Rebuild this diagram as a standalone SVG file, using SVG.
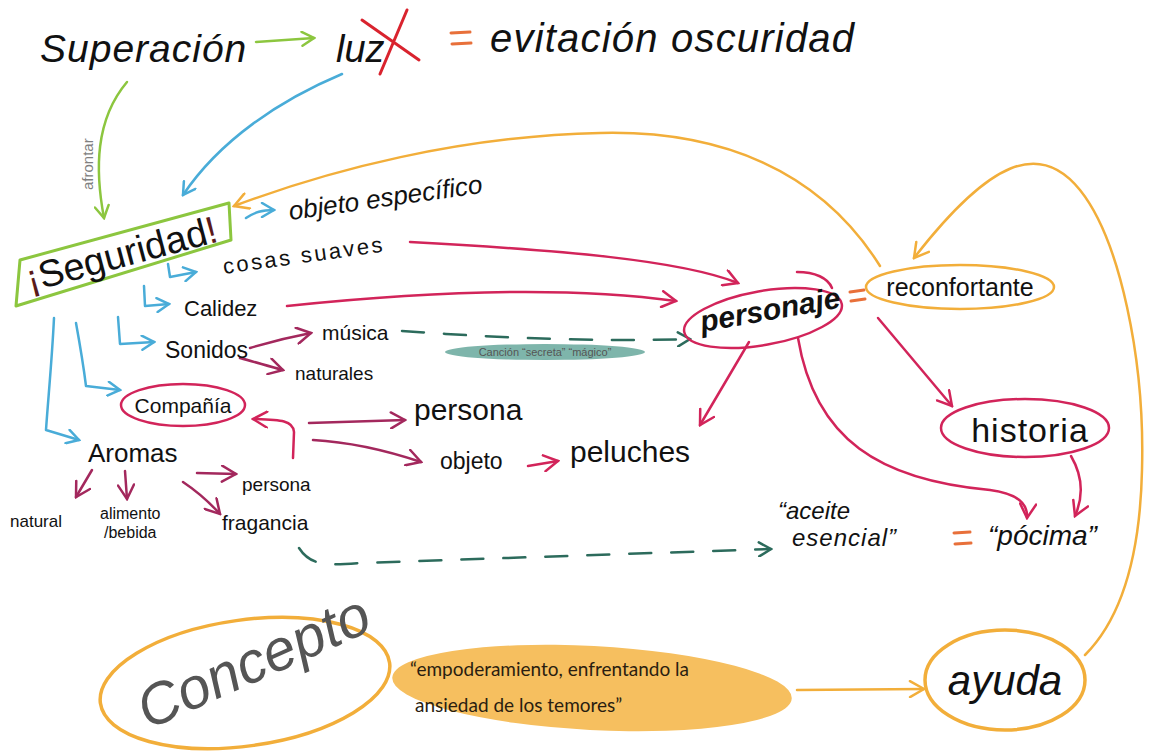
<svg xmlns="http://www.w3.org/2000/svg" width="1150" height="753" viewBox="0 0 1150 753">
  <defs>
    <style>
      .t { font-family: "Liberation Sans", "DejaVu Sans", sans-serif; fill: #111; }
      .hand { font-family: "Liberation Sans", "DejaVu Sans", sans-serif; fill: #111; }
      .soft { font-family: "Lato", "Liberation Sans", sans-serif; fill: #2a1d10; }
      .ln { fill: none; stroke-linecap: round; stroke-linejoin: round; }
      .green { stroke: #8cc63f; stroke-width: 2.5; }
      .blue { stroke: #49acd8; stroke-width: 2.5; }
      .red { stroke: #d2245a; stroke-width: 2.5; }
      .plum { stroke: #a3285d; stroke-width: 2.5; }
      .orange { stroke: #f2ae3a; stroke-width: 2.5; }
      .teal { stroke: #2c6b5c; stroke-width: 2.5; stroke-dasharray: 22 20; }
      .eq { stroke: #e8703a; stroke-width: 3; stroke-linecap: round; }
    </style>
    <marker id="ah-green" viewBox="0 0 16 16" refX="14" refY="8" markerWidth="16" markerHeight="16" markerUnits="userSpaceOnUse" orient="auto">
      <path d="M2,1 L14,8 L2,15" fill="none" stroke="#8cc63f" stroke-width="2.5" stroke-linecap="round"/>
    </marker>
    <marker id="ah-blue" viewBox="0 0 16 16" refX="14" refY="8" markerWidth="16" markerHeight="16" markerUnits="userSpaceOnUse" orient="auto">
      <path d="M2,1 L14,8 L2,15" fill="none" stroke="#49acd8" stroke-width="2.5" stroke-linecap="round"/>
    </marker>
    <marker id="ah-red" viewBox="0 0 18 18" refX="16" refY="9" markerWidth="18" markerHeight="18" markerUnits="userSpaceOnUse" orient="auto">
      <path d="M2,1 L16,9 L2,17" fill="none" stroke="#d2245a" stroke-width="2.5" stroke-linecap="round"/>
    </marker>
    <marker id="ah-plum" viewBox="0 0 18 18" refX="16" refY="9" markerWidth="18" markerHeight="18" markerUnits="userSpaceOnUse" orient="auto">
      <path d="M2,1 L16,9 L2,17" fill="none" stroke="#a3285d" stroke-width="2.5" stroke-linecap="round"/>
    </marker>
    <marker id="ah-orange" viewBox="0 0 18 18" refX="16" refY="9" markerWidth="18" markerHeight="18" markerUnits="userSpaceOnUse" orient="auto">
      <path d="M2,1 L16,9 L2,17" fill="none" stroke="#f2ae3a" stroke-width="2.5" stroke-linecap="round"/>
    </marker>
    <marker id="ah-teal" viewBox="0 0 16 16" refX="14" refY="8" markerWidth="16" markerHeight="16" markerUnits="userSpaceOnUse" orient="auto">
      <path d="M2,1 L14,8 L2,15" fill="none" stroke="#2c6b5c" stroke-width="2.5" stroke-linecap="round"/>
    </marker>
  </defs>

  <rect width="1150" height="753" fill="#ffffff"/>

  <!-- connectors -->
  <g id="connectors">
    <!-- top row -->
    <path class="ln green" d="M256,42 L314,38" marker-end="url(#ah-green)"/>
    <path class="ln green" d="M127,82 C95,120 95,170 104,218" marker-end="url(#ah-green)"/>
    <path class="ln blue" d="M342,74 C280,100 220,140 183,195" marker-end="url(#ah-blue)"/>
    <!-- return loops in orange -->
    <path class="ln orange" d="M880,266 C820,170 720,130 600,133 C460,136 330,170 234,206" marker-end="url(#ah-orange)"/>
    <path class="ln orange" d="M1085,655 C1120,620 1140,560 1142,470 C1145,360 1120,240 1080,190 C1040,140 990,160 914,258" marker-end="url(#ah-orange)"/>
    <path class="ln orange" d="M797,690 L924,689" marker-end="url(#ah-orange)"/>

    <!-- branches out of ¡Seguridad! -->
    <path class="ln blue" d="M246,218 C255,212 262,210 274,210" marker-end="url(#ah-blue)"/>
    <path class="ln blue" d="M168,264 L170,277 L196,272" marker-end="url(#ah-blue)"/>
    <path class="ln blue" d="M144,286 L145,306 L169,304" marker-end="url(#ah-blue)"/>
    <path class="ln blue" d="M118,317 L120,344 L154,342" marker-end="url(#ah-blue)"/>
    <path class="ln blue" d="M76,323 C80,345 84,370 86,386 L120,390" marker-end="url(#ah-blue)"/>
    <path class="ln blue" d="M54,318 C52,360 48,400 46,430 L79,440" marker-end="url(#ah-blue)"/>

    <!-- toward personaje -->
    <path class="ln red" d="M410,242 C560,250 680,260 738,283" marker-end="url(#ah-red)"/>
    <path class="ln red" d="M287,306 C420,292 560,285 676,301" marker-end="url(#ah-red)"/>
    <path class="ln teal" d="M402,331 C500,338 600,342 690,339" marker-end="url(#ah-teal)"/>

    <!-- Sonidos -->
    <path class="ln plum" d="M250,348 C270,342 290,337 311,333" marker-end="url(#ah-plum)"/>
    <path class="ln plum" d="M240,358 C255,362 268,366 283,370" marker-end="url(#ah-plum)"/>

    <!-- Compañía -->
    <path class="ln plum" d="M309,423 L405,420" marker-end="url(#ah-plum)"/>
    <path class="ln plum" d="M313,440 C350,442 385,450 421,462" marker-end="url(#ah-plum)"/>
    <path class="ln red" d="M528,466 L558,461" marker-end="url(#ah-red)"/>
    <path class="ln red" d="M293,458 L294,432 C293,420 280,420 253,419" marker-end="url(#ah-red)"/>

    <!-- Aromas -->
    <path class="ln plum" d="M92,470 L76,497" marker-end="url(#ah-plum)"/>
    <path class="ln plum" d="M125,471 L127,499" marker-end="url(#ah-plum)"/>
    <path class="ln plum" d="M197,473 L236,474" marker-end="url(#ah-plum)"/>
    <path class="ln plum" d="M183,482 C198,492 210,503 220,514" marker-end="url(#ah-plum)"/>
    <path class="ln teal" d="M299,548 C310,565 325,566 360,563 L771,549" marker-end="url(#ah-teal)"/>

    <!-- personaje and reconfortante -->
    <path class="ln red" d="M749,342 L700,425" marker-end="url(#ah-red)"/>
    <path class="ln red" d="M798,338 C815,440 880,480 990,490 C1020,494 1028,505 1027,518" marker-end="url(#ah-red)"/>
    <path class="ln red" d="M878,318 L952,406" marker-end="url(#ah-red)"/>
    <path class="ln red" d="M1071,456 C1085,480 1082,500 1075,516" marker-end="url(#ah-red)"/>
  </g>

  <!-- top line -->
  <g id="superacion">
    <text class="hand" x="40" y="62" font-size="39" font-style="italic" letter-spacing="1">Superación</text>
  </g>
  <g id="luz">
    <text class="hand" x="336" y="62" font-size="38" font-style="italic">luz</text>
    <path class="ln" d="M362,20 L419,60 M407,10 L380,74" stroke="#d9232e" stroke-width="3"/>
  </g>
  <g id="equals-1"><path class="eq" d="M451,33 L470,32 M452,44 L471,43"/></g>
  <g id="evitacion">
    <text class="hand" x="490" y="52" font-size="40" font-style="italic" letter-spacing="1.2">evitación oscuridad</text>
  </g>
  <g id="afrontar">
    <text class="t" transform="translate(93,190) rotate(-90)" font-size="15" style="fill:#808080">afrontar</text>
  </g>

  <!-- ¡Seguridad! -->
  <g id="seguridad">
    <path d="M20,260 L229,203 L231,240 L16,306 Z" fill="none" stroke="#8cc63f" stroke-width="3" stroke-linejoin="round"/>
    <text class="hand" transform="translate(30,292) rotate(-15)" font-size="38"><tspan fill="#5a1a1a">¡</tspan>Seguridad<tspan fill="#5a1a1a">!</tspan></text>
  </g>

  <g id="objeto-especifico">
    <text class="hand" transform="translate(290,220) rotate(-8)" font-size="26" font-style="italic">objeto específico</text>
  </g>
  <g id="cosas-suaves">
    <text class="hand" transform="translate(224,274) rotate(-8)" font-size="22" letter-spacing="2.5">cosas suaves</text>
  </g>
  <g id="calidez"><text class="hand" x="184" y="316" font-size="22">Calidez</text></g>
  <g id="sonidos"><text class="hand" x="165" y="358" font-size="23">Sonidos</text></g>
  <g id="musica"><text class="hand" x="322" y="340" font-size="21">música</text></g>
  <g id="naturales"><text class="hand" x="295" y="380" font-size="19">naturales</text></g>
  <g id="cancion">
    <ellipse cx="545" cy="352" rx="100" ry="8" fill="#7eb5ab"/>
    <text class="t" x="545" y="356" font-size="11" text-anchor="middle" style="fill:#555">Canción “secreta” “mágico”</text>
  </g>

  <g id="compania">
    <ellipse cx="183" cy="405" rx="62" ry="21" fill="none" stroke="#d2245a" stroke-width="2.5"/>
    <text class="hand" x="183" y="413" font-size="21" text-anchor="middle">Compañía</text>
  </g>
  <g id="persona-1"><text class="hand" x="414" y="420" font-size="30">persona</text></g>
  <g id="objeto"><text class="hand" x="440" y="469" font-size="23">objeto</text></g>
  <g id="peluches"><text class="hand" x="570" y="462" font-size="30">peluches</text></g>

  <g id="aromas"><text class="hand" x="88" y="462" font-size="26">Aromas</text></g>
  <g id="natural"><text class="hand" x="10" y="527" font-size="17">natural</text></g>
  <g id="alimento">
    <text class="hand" x="100" y="519" font-size="16">alimento</text>
    <text class="hand" x="104" y="538" font-size="16">/bebida</text>
  </g>
  <g id="persona-2"><text class="hand" x="242" y="491" font-size="19">persona</text></g>
  <g id="fragancia"><text class="hand" x="222" y="530" font-size="21">fragancia</text></g>

  <g id="personaje">
    <ellipse cx="763" cy="318" rx="80" ry="27" transform="rotate(-10 763 318)" fill="none" stroke="#d2245a" stroke-width="2.5"/>
    <path class="ln red" d="M797,272 C815,272 828,278 832,288"/>
    <text class="hand" transform="translate(702,332) rotate(-10)" font-size="30" font-style="italic" font-weight="bold">personaje</text>
  </g>
  <g id="equals-2"><path class="eq" d="M850,292 L864,290 M851,301 L865,299"/></g>
  <g id="reconfortante">
    <ellipse cx="960" cy="287" rx="94" ry="22" fill="none" stroke="#f2ae3a" stroke-width="2.5"/>
    <text class="hand" x="960" y="296" font-size="25" text-anchor="middle">reconfortante</text>
  </g>
  <g id="historia">
    <ellipse cx="1025" cy="428" rx="84" ry="29" fill="none" stroke="#d2245a" stroke-width="2.5"/>
    <text class="hand" x="1030" y="442" font-size="34" text-anchor="middle" letter-spacing="1">historia</text>
  </g>

  <g id="aceite">
    <text class="hand" x="778" y="519" font-size="24" font-style="italic">“aceite</text>
    <text class="hand" x="792" y="546" font-size="24" font-style="italic" letter-spacing="1">esencial”</text>
  </g>
  <g id="equals-3"><path class="eq" d="M954,533 L970,532 M955,544 L971,543"/></g>
  <g id="pocima"><text class="hand" x="988" y="545" font-size="28" font-style="italic">“pócima”</text></g>

  <!-- bottom row -->
  <g id="concepto">
    <ellipse cx="245" cy="683" rx="146" ry="63" transform="rotate(-8 245 683)" fill="none" stroke="#f2ae3a" stroke-width="3.5"/>
    <text class="hand" transform="translate(148,730) rotate(-24)" font-size="58" font-style="italic" style="fill:#555">Concepto</text>
  </g>
  <g id="lema">
    <ellipse cx="592" cy="688" rx="200" ry="42" transform="rotate(3 592 688)" fill="#f6bf5f"/>
    <text class="soft" x="410" y="676" font-size="19">“empoderamiento, enfrentando la</text>
    <text class="soft" x="415" y="712" font-size="19">ansiedad de los temores”</text>
  </g>
  <g id="ayuda">
    <ellipse cx="1005" cy="680" rx="80" ry="50" fill="none" stroke="#f2ae3a" stroke-width="3.5"/>
    <text class="hand" x="1005" y="695" font-size="42" font-style="italic" text-anchor="middle">ayuda</text>
  </g>
</svg>
